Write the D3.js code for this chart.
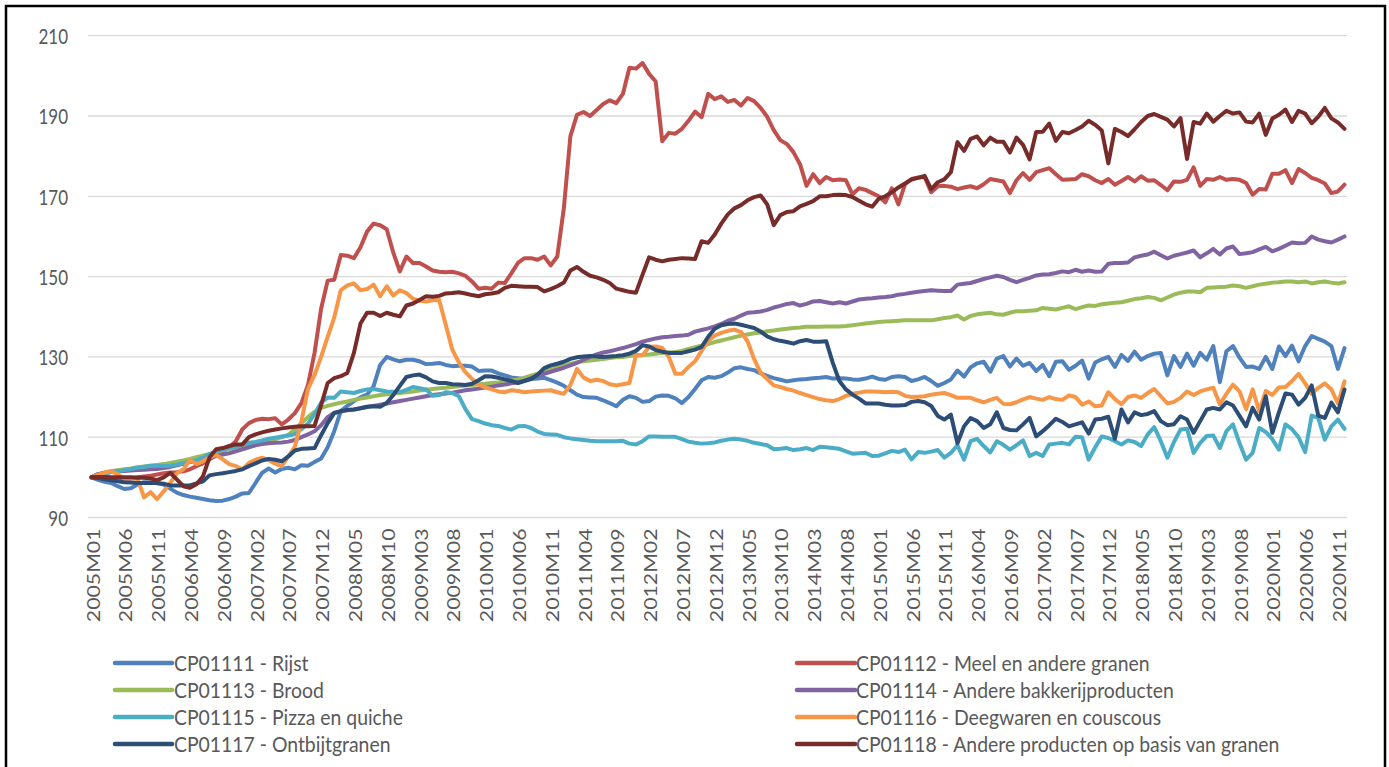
<!DOCTYPE html>
<html>
<head>
<meta charset="utf-8">
<script src="https://cdn.jsdelivr.net/npm/d3@7"></script>
<style>
  html, body { margin: 0; padding: 0; background: #ffffff; }
  svg { display: block; }
  text { font-family: Lato, "Open Sans", sans-serif; fill: #595959; }
</style>
</head>
<body>
<svg id="chart" width="1389" height="767"></svg>
<script>
// ---------- DATA ----------
const startYear = 2005, endYear = 2020;
const months = [];
for (let y = startYear; y <= endYear; y++) for (let m = 1; m <= 12; m++) months.push(y + "M" + String(m).padStart(2, "0"));

const yTicks = [90, 110, 130, 150, 170, 190, 210];

const rijst = [
  100, 99.4, 98.9, 98.6, 97.8, 97.1, 97.3, 98.2, 98.8, 98.7, 98.5, 98.2,
  97.2, 96.2, 95.6, 95.2, 94.9, 94.6, 94.3, 94.1, 94.2, 94.6, 95.2, 96,
  96.1, 98.6, 101.1, 102.2, 101.2, 102.1, 102.4, 102, 103, 102.9, 103.8, 104.7,
  107.5, 111.5, 116.5, 117.8, 119, 119.9, 120.6, 122.7, 128, 130, 129.4, 128.9,
  129.3, 129.3, 128.9, 128.2, 128.3, 128.5, 128, 127.7, 127.8, 127.8, 127.6, 126.5,
  126.6, 126.6, 125.9, 125.4, 124.9, 124.7, 124.5, 124.5, 124.6, 124.8, 124.2, 123.6,
  122.8, 121.7, 120.6, 120, 119.9, 119.8, 119.2, 118.5, 117.7, 119.3, 120.2, 119.8,
  118.8, 119, 120.1, 120.4, 120.3, 119.7, 118.5, 120, 122, 124.2, 125, 124.8,
  125.2, 126.1, 127.2, 127.4, 127, 126.7, 125.9, 125.3, 124.7, 124.3, 123.9, 124.2,
  124.4, 124.5, 124.7, 124.8, 125, 124.6, 124.7, 124.6, 124.4, 124.3, 124.6, 125.1,
  124.5, 124.3, 125, 125.2, 125, 124, 124.4, 125, 124, 122.8, 123.5, 124.4,
  126.6, 125.1, 127.4, 128.4, 128.8, 126.3, 129.6, 130.2, 127.6, 129.6, 127.8, 128.5,
  126.5, 128, 125.2, 128.8, 128.9, 126.8, 127.8, 129.1, 124.6, 128.6, 129.4, 130,
  127.5, 130.5, 129, 131.3, 129.3, 130.2, 130.8, 131, 125.4, 130.2, 127.5, 130.8,
  127.8, 131, 129.3, 132.7, 123.7, 131.4, 132.7, 129.8, 127.5, 127.6, 127, 130,
  127, 132.6, 130.2, 132.8, 128.9, 132.7, 135.2, 134.5, 133.8, 132.7, 127, 132.2
];

const meel = [
  100, 100.2, 100.1, 99.9, 99.7, 99.6, 99.8, 100, 100.2, 100.4, 100.7, 101,
  101.2, 101.3, 101.5, 102, 102.8, 103.5, 104.5, 105.5, 106.5, 107.5, 109, 112,
  113.5, 114.3, 114.6, 114.5, 114.7, 113.2, 114.4, 116, 118.5, 123, 131, 142,
  149, 149.2, 155.4, 155.2, 154.6, 157.3, 161.2, 163.2, 162.8, 161.8, 156, 151.3,
  155, 153.4, 153.4, 152.5, 151.5, 151.2, 151.1, 151.2, 150.8, 150.2, 148.8, 147,
  147.2, 147, 148.5, 148.4, 150.8, 153.4, 154.6, 154.6, 154.2, 155, 152.8, 155,
  167, 185, 190.3, 191, 190, 191.5, 193, 193.9, 193.2, 195.5, 202, 201.8,
  203.2, 200.5, 198.6, 183.7, 185.8, 185.6, 186.8, 188.8, 191.1, 189.7, 195.5, 194.2,
  194.9, 193.5, 194, 192.6, 194.5, 193.7, 192, 189.8, 186.5, 184, 183, 181,
  178, 172.6, 175.5, 173.3, 174.8, 174, 174.2, 174, 170.5, 172, 171.6, 170.8,
  170, 168.5, 172, 168, 173, 174.3, 174.7, 174.8, 171, 172.5, 172.6, 172.4,
  171.8, 172.2, 172.5, 172, 173, 174.3, 174, 173.7, 170.8, 174, 175.8, 174.1,
  176, 176.5, 177, 175.5, 174.1, 174.2, 174.3, 175.5, 175, 174, 173.3, 174.3,
  172.9, 173.8, 174.8, 173.7, 175, 173.9, 174, 172.8, 171.5, 173.7, 173.6, 174.1,
  177.2, 172.6, 174.3, 174.1, 174.8, 174.1, 174.3, 174.1, 173.3, 170.4, 171.8, 171.7,
  175.6, 175.6, 176.5, 173.3, 176.8, 175.8, 174.6, 174, 173.2, 170.8, 171.2, 172.9
];

const brood = [
  100, 100.8, 101.2, 101.5, 101.8, 102, 102.2, 102.5, 102.7, 102.9, 103.1, 103.3,
  103.6, 103.9, 104.2, 104.6, 105, 105.4, 105.8, 106.3, 106.7, 107.1, 107.5, 107.9,
  108.3, 108.6, 108.9, 109.2, 109.5, 110, 110.6, 112, 113.5, 115, 116.3, 117.3,
  117.8, 118.2, 118.6, 118.9, 119.3, 119.6, 119.9, 120.2, 120.5, 120.7, 120.9, 121,
  121.2, 121.4, 121.6, 121.8, 122, 122.2, 122.3, 122.5, 122.7, 122.9, 123, 123.2,
  123.3, 123.5, 123.6, 123.8, 124.1, 124.4, 124.8, 125.3, 125.8, 126.3, 126.9, 127.5,
  127.9, 128.3, 128.7, 128.9, 129.1, 129.3, 129.5, 129.7, 129.9, 130, 130.2, 130.4,
  130.5, 130.6, 130.8, 131, 131.1, 131.2, 131.5, 132, 132.4, 132.8, 133.2, 133.7,
  134.1, 134.5, 134.9, 135.3, 135.6, 135.9, 136.1, 136.4, 136.6, 136.8, 137, 137.2,
  137.3, 137.5, 137.5, 137.5, 137.6, 137.6, 137.6, 137.7, 137.9, 138.1, 138.3, 138.5,
  138.7, 138.8, 138.9, 139, 139.1, 139.1, 139.1, 139.1, 139.1, 139.4, 139.7, 139.9,
  140.3, 139.3, 140.2, 140.6, 140.8, 141, 140.6, 140.5, 141, 141.4, 141.4, 141.5,
  141.6, 142.2, 142, 141.8, 142.2, 142.6, 141.9, 142.4, 142.8, 142.7, 143.1, 143.3,
  143.5, 143.6, 144, 144.4, 144.6, 144.9, 144.7, 144.1, 144.8, 145.5, 146, 146.3,
  146.3, 146.1, 147.2, 147.3, 147.4, 147.5, 147.8, 147.6, 147.2, 147.6, 148, 148.2,
  148.5, 148.6, 148.8, 148.8, 148.6, 148.8, 148.3, 148.6, 148.8, 148.5, 148.3, 148.6
];

const bakkerij = [
  100, 100.8, 101.1, 101.3, 101.5, 101.6, 101.7, 101.8, 101.9, 102, 102.1, 102.3,
  102.6, 103, 103.4, 103.8, 104.1, 104.5, 104.9, 105.3, 105.7, 106, 106.5, 107,
  107.5, 108, 108.3, 108.5, 108.6, 108.7, 108.9, 109.3, 110, 110.7, 111.5, 113,
  115, 116.1, 116.4, 116.7, 116.9, 117.2, 117.5, 117.8, 118.1, 118.4, 118.7, 119,
  119.3, 119.6, 119.9, 120.2, 120.5, 120.7, 120.9, 121.1, 121.4, 121.7, 121.9, 122.1,
  122.4, 122.6, 122.9, 123.1, 123.4, 123.7, 124.1, 124.7, 125.3, 125.8, 126.3, 126.8,
  127.3, 127.9, 128.5, 129.3, 130, 130.6, 131.1, 131.4, 131.8, 132.2, 132.7, 133.2,
  133.8, 134.2, 134.6, 134.9, 135, 135.2, 135.3, 135.5, 136.3, 136.7, 137.1, 137.6,
  138.2, 139, 139.5, 140.3, 141, 141.1, 141.3, 141.7, 142.3, 142.7, 143.2, 143.4,
  142.8, 143.2, 143.8, 143.9, 143.6, 143.3, 143.6, 143.3, 143.8, 144.3, 144.5, 144.6,
  144.8, 144.9, 145.1, 145.5, 145.7, 146, 146.2, 146.4, 146.6, 146.5, 146.4, 146.4,
  148, 148.2, 148.4, 148.9, 149.4, 149.8, 150.2, 149.9, 149.2, 148.6, 149.2, 149.7,
  150.3, 150.5, 150.6, 150.9, 151.3, 151.1, 151.7, 151.2, 151.5, 151.2, 151.3, 153.2,
  153.4, 153.4, 153.5, 154.8, 155.2, 155.5, 156.2, 155.3, 154.5, 155.2, 155.6, 156,
  156.5, 154.8, 155.8, 156.9, 155.5, 157, 157.5, 155.6, 155.8, 156.1, 156.8, 157.4,
  156.3, 156.9, 157.7, 158.5, 158.3, 158.4, 160, 159.2, 158.8, 158.5, 159.2, 160
];

const pizza = [
  100, 100.5, 101, 101.3, 101.5, 101.8, 102.1, 102.4, 102.6, 102.9, 102.9, 102.8,
  102.9, 103.2, 103.5, 103.9, 104.3, 104.9, 105.8, 106.4, 106.9, 107.3, 107.6, 108.2,
  108.6, 108.8, 109.2, 109.6, 109.9, 110.2, 110.4, 110.8, 112, 113.4, 115.8, 118.6,
  119.9, 119.8, 121.4, 121.2, 121, 121.5, 121.9, 122, 121.7, 121.4, 121.3, 121.2,
  121.8, 122.5, 122.2, 121.9, 120.3, 120.5, 121.2, 121, 120.2, 117, 114.5, 114,
  113.4, 113, 112.8, 112.3, 111.9, 112.7, 112.8, 112.3, 111.4, 110.8, 110.7, 110.6,
  110, 109.7, 109.5, 109.3, 109.1, 109, 109, 109, 109, 109.1, 108.4, 108.2,
  109, 110.2, 110.2, 110.1, 110.1, 110.1, 109.5, 108.9, 108.6, 108.4, 108.5, 108.7,
  109.1, 109.4, 109.6, 109.4, 109.1, 108.6, 108.3, 108, 107, 107.1, 107.3, 106.8,
  107, 107.3, 106.8, 107.6, 107.5, 107.3, 107.1, 106.5, 105.9, 106, 106.1, 105.3,
  105.4, 106, 106.6, 106.3, 106.9, 104.5, 106.3, 106.1, 106.4, 106.8, 104.9, 106.1,
  108, 104.4, 109, 109.6, 107.8, 106.2, 109, 108.1, 106.9, 108, 109.2, 105.3,
  106.1, 105.3, 108.2, 108.4, 108.6, 108.2, 110.1, 110, 104.4, 107.5, 110.2, 109.8,
  109, 108.2, 109.2, 108.8, 107.8, 110.7, 112.5, 109, 104.9, 108.8, 111.9, 112.1,
  106.1, 108.6, 110.3, 110.4, 107.3, 111.5, 113.2, 108.5, 104.4, 106.1, 112.3, 111.3,
  109.5, 106.9, 113.2, 112, 110, 106.3, 115.4, 114.8, 109.4, 112.7, 114.4, 112.1
];

const deegwaren = [
  100, 100.6, 101.2, 101.5, 100.8, 99.6, 99.7, 99.8, 95, 96.3, 94.6, 96.5,
  98.6, 101, 102, 104.3, 103.3, 104, 105, 105.6, 104.5, 103.3, 102.8, 102,
  103.6, 104.4, 104.9, 104.3, 103.4, 102.8, 105.2, 107.6, 114, 122, 125.5, 130,
  135, 139.8, 146.6, 147.8, 148.3, 146.6, 146.9, 148, 145.1, 147.6, 145.3, 146.6,
  145.9, 144.5, 144, 143.8, 144.1, 144.2, 138, 131.8, 128.6, 126.2, 124.5, 123.1,
  122.4, 121.9, 121.4, 121.2, 121.7, 121.5, 121.2, 121.4, 121.5, 121.6, 121.7, 121.2,
  120.8, 123, 127, 124.9, 124, 124.3, 124, 123.2, 122.9, 123.2, 123.5, 130.5,
  130.4, 132.5, 132.6, 132.2, 130, 125.8, 125.8, 127.5, 128.9, 131.5, 134, 135.3,
  136, 136.5, 136.8, 136.2, 133.9, 129.5, 126, 124.5, 122.9, 122.5, 122, 121.6,
  121, 120.5, 120, 119.5, 119.2, 119, 119.5, 120.3, 120.8, 121.1, 121.4, 121.4,
  121.3, 121.2, 121.3, 121.2, 120.3, 120, 120.1, 120.2, 120.6, 120.8, 121, 120.5,
  119.8, 119.8, 119.8, 119.2, 118.7, 119.3, 119.8, 118.3, 118.2, 118.7, 119.4, 120,
  119.6, 119.3, 120, 119.5, 119.3, 120.4, 120, 118.1, 118.9, 117.7, 117.9, 121.2,
  119.5, 118.2, 120, 120.4, 119.8, 121, 122, 120.2, 118.4, 118.8, 119.8, 121.4,
  120.5, 121.4, 121.9, 122.3, 118.2, 120.8, 123.1, 121.4, 117, 121.9, 116.5, 121.5,
  120.5, 122.4, 122.5, 124, 125.8, 123.4, 120.8, 122.3, 123.4, 121.9, 118.4, 123.9
];

const ontbijt = [
  100, 99.8, 99.5, 99.3, 99, 98.8, 98.7, 98.6, 98.6, 98.6, 98.6, 98.4,
  98, 98, 98, 98, 98.5, 99, 100.5, 100.8, 101, 101.3, 101.6, 102,
  102.8, 103.5, 104.2, 104.6, 104.4, 104, 105.2, 106.7, 107.1, 107.2, 107.3, 110.5,
  113.5, 116, 116.5, 116.8, 116.9, 117.2, 117.6, 117.7, 117.6, 118.5, 120.5, 122.8,
  125, 125.4, 125.6, 124.9, 123.9, 123.5, 123.5, 123.2, 123.1, 123, 123.3, 124.2,
  125.2, 125.1, 124.8, 124.4, 124, 123.5, 124, 124.5, 125.6, 127.2, 127.9, 128.3,
  128.8, 129.5, 129.9, 130.1, 130.2, 130.1, 130, 130.1, 130.2, 130.4, 130.8, 131.5,
  132.9, 132.6, 131.7, 131.3, 131, 131, 131, 131.4, 131.8, 132.5, 135, 137,
  137.9, 138.2, 138.3, 138, 137.6, 137.2, 136.3, 135.1, 134.4, 134, 133.7, 133.3,
  133.9, 134.2, 133.8, 133.8, 133.9, 128.5, 124, 121.9, 120.6, 119.6, 118.4, 118.4,
  118.4, 118.1, 117.9, 117.9, 118, 118.8, 119, 118.7, 117.8, 115.3, 114.4, 115.6,
  108.5, 112.7, 114.8, 114, 112.3, 113.2, 116.2, 112.3, 111.8, 111.7, 113.2, 114.8,
  110.2, 111.5, 113, 114.6, 113.8, 112.7, 113.2, 113.7, 110.9, 114.4, 114.6, 115.1,
  109.6, 116.9, 113.7, 116.2, 115.5, 115.8, 116.5, 114, 113, 113.2, 115.2, 114.4,
  111.1, 114, 116.9, 117.3, 116.9, 118.7, 117.9, 115.3, 112.7, 117.3, 114.4, 120.2,
  111.1, 116.2, 120.9, 120.6, 118.1, 119.8, 122.9, 115.4, 114.8, 118.6, 116.2, 121.9
];

const andereProducten = [
  100, 100.1, 100.1, 100, 100, 100, 100, 99.9, 99.9, 99.7, 99.3, 100,
  101.1, 99.5, 97.8, 97.4, 98.3, 100.3, 105, 107, 107.3, 107.8, 108.2, 108.2,
  110, 110.7, 111.2, 111.6, 111.9, 112.2, 112.4, 112.6, 112.7, 112.7, 112.8, 118,
  123.5, 124.7, 125.2, 126, 131, 138.3, 141, 141, 140.2, 141, 140.5, 140.1,
  142.8, 143.3, 144.2, 145.1, 145, 145.2, 145.8, 145.9, 146.1, 145.8, 145.4, 145.1,
  145.6, 145.8, 146.1, 147.2, 147.7, 147.6, 147.5, 147.5, 147.4, 146.3, 146.9, 147.6,
  148.5, 151.5, 152.4, 151.2, 150.2, 149.8, 149.2, 148.4, 147, 146.6, 146.2, 146,
  150.5, 154.8, 154.2, 153.8, 154.2, 154.4, 154.6, 154.5, 154.4, 158.8, 158.4, 160.5,
  163.2, 165.5, 167, 167.8, 169, 169.8, 170.2, 168, 162.8, 165.3, 166.1, 166.3,
  167.5, 168.1, 168.8, 170, 170, 170.3, 170.4, 170.3, 169.8, 168.9, 168, 167.4,
  169.4, 170, 171, 172.2, 173.2, 174.2, 174.6, 175.1, 171.8, 173.5, 174.2, 176,
  183.5, 181.3, 184.3, 184.9, 182.7, 184.6, 183.6, 183.6, 180.9, 184.6, 182.8, 179.2,
  186, 186.1, 188.1, 183.8, 186, 185.7, 186.5, 187.4, 188.8, 187.8, 186.4, 178.2,
  186.8, 186, 185, 186.7, 188.5, 190, 190.5, 189.8, 189.1, 187.4, 189.5, 179.3,
  188.5, 188.1, 190.6, 188.6, 190, 191.3, 190.6, 190.9, 188.6, 188.4, 190.6, 185.3,
  189.4, 190.3, 191.6, 188.5, 191.3, 190.6, 188.2, 189.8, 192, 189.4, 188.4, 186.8
];

const seriesNames = [
  "CP01111 - Rijst",
  "CP01112 - Meel en andere granen",
  "CP01113 - Brood",
  "CP01114 - Andere bakkerijproducten",
  "CP01115 - Pizza en quiche",
  "CP01116 - Deegwaren en couscous",
  "CP01117 - Ontbijtgranen",
  "CP01118 - Andere producten op basis van granen"
];
const seriesValues = [rijst, meel, brood, bakkerij, pizza, deegwaren, ontbijt, andereProducten];
const seriesColors = ["#4F81BD", "#C0504D", "#9BBB59", "#8064A2", "#4BACC6", "#F79646", "#2C4D75", "#772C2A"];

// ---------- CHART ----------
const svg = d3.select("#chart");
const W = 1389, H = 767;
const plot = { left: 88, right: 1347, top: 35.7, bottom: 517.5 };

svg.append("rect").attr("x", 0).attr("y", 0).attr("width", W).attr("height", H).attr("fill", "#fff");

const x = d3.scalePoint().domain(months).range([91.5, 1344.5]);
const y = d3.scaleLinear().domain([90, 210]).range([plot.bottom, plot.top]);

// gridlines
svg.append("g").selectAll("line").data(yTicks).join("line")
  .attr("x1", plot.left).attr("x2", plot.right)
  .attr("y1", d => y(d)).attr("y2", d => y(d))
  .attr("stroke", "#D9D9D9").attr("stroke-width", 1.3);

// y labels
const yl = svg.append("g").selectAll("g").data(yTicks).join("g")
  .attr("transform", d => `translate(68,${y(d)})`);
yl.append("text")
  .attr("text-anchor", "end").attr("dominant-baseline", "central")
  .attr("transform", "scale(1,1.28)")
  .attr("font-size", 17)
  .text(d => d);

// x labels
const xLabels = months.filter((m, i) => i % 5 === 0);
svg.append("g").selectAll("g").data(xLabels).join("g")
  .attr("transform", d => `translate(${x(d) + 1.5},${plot.bottom + 11}) rotate(-90)`)
  .append("text")
  .attr("text-anchor", "end").attr("dominant-baseline", "central")
  .attr("transform", "scale(1.25,1)")
  .attr("font-size", 17)
  .text(d => d);

// lines
const line = d3.line().x((d, i) => x(months[i])).y(d => y(d));
svg.append("g").selectAll("path").data(seriesValues).join("path")
  .attr("d", d => line(d))
  .attr("fill", "none")
  .attr("stroke", (d, i) => seriesColors[i])
  .attr("stroke-width", 4)
  .attr("stroke-linejoin", "round")
  .attr("stroke-linecap", "round");

// legend
const legendRows = [663, 690, 717, 744];
const legendCols = [{ x1: 115, x2: 172, tx: 174 }, { x1: 797, x2: 855, tx: 856 }];
const leg = svg.append("g").selectAll("g").data(seriesNames).join("g")
  .attr("transform", (d, i) => `translate(0,${legendRows[Math.floor(i / 2)]})`);
leg.append("line")
  .attr("x1", (d, i) => legendCols[i % 2].x1).attr("x2", (d, i) => legendCols[i % 2].x2)
  .attr("y1", 0).attr("y2", 0)
  .attr("stroke", (d, i) => seriesColors[i]).attr("stroke-width", 4.5).attr("stroke-linecap", "round");
leg.append("g").attr("transform", (d, i) => `translate(${legendCols[i % 2].tx},0)`)
  .append("text")
  .attr("dominant-baseline", "central")
  .attr("transform", "scale(1,1.1)")
  .attr("font-size", 19.4)
  .text(d => d);

// outer border
svg.append("rect").attr("x", 6).attr("y", 6).attr("width", 1379).attr("height", 800)
  .attr("fill", "none").attr("stroke", "#000").attr("stroke-width", 2.5);
</script>
</body>
</html>
